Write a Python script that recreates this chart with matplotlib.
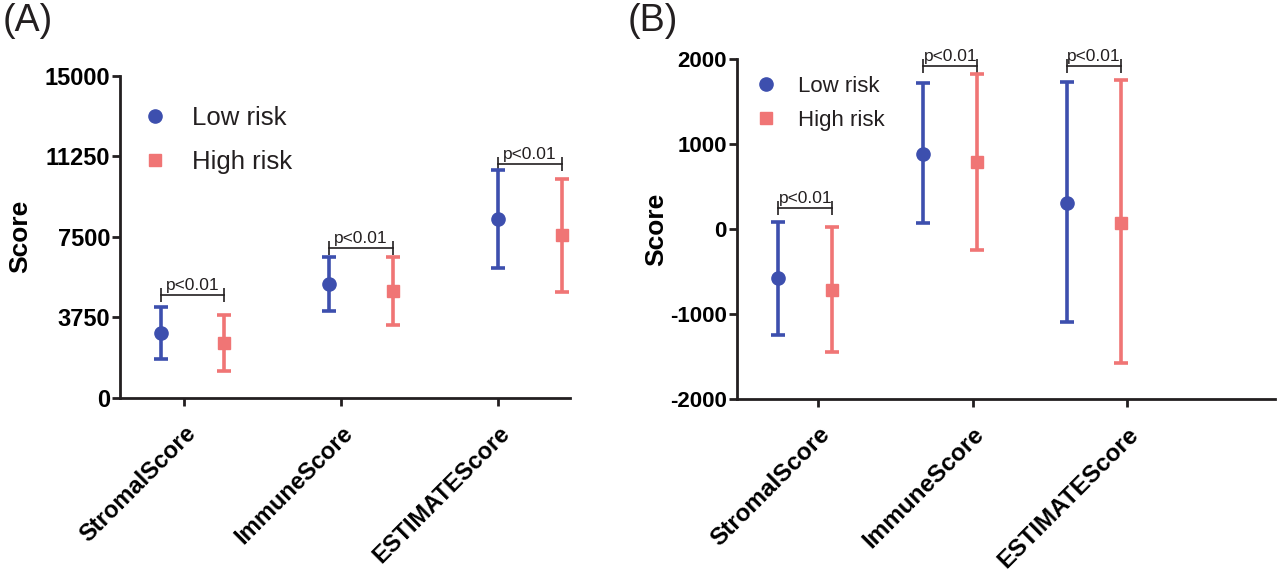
import matplotlib
matplotlib.use("Agg")
import matplotlib.pyplot as plt
from matplotlib.lines import Line2D

plt.rcParams['font.family'] = ['Liberation Sans', 'DejaVu Sans']
plt.rcParams['axes.unicode_minus'] = False

categories = ["StromalScore", "ImmuneScore", "ESTIMATEScore"]
groups = ["Low risk", "High risk"]

# panel A (ESTIMATE scores)
a_low_mean = [3015, 5298, 8341]
a_low_lo = [1803, 4040, 6058]
a_low_hi = [4227, 6557, 10625]
a_high_mean = [2549, 4986, 7563]
a_high_lo = [1272, 3388, 4926]
a_high_hi = [3868, 6557, 10205]
a_pval_y = [4800, 6976, 10890]

# panel B
b_low_mean = [-576, 885, 313]
b_low_lo = [-1243, 70, -1086]
b_low_hi = [89, 1717, 1729]
b_high_mean = [-714, 788, 78]
b_high_lo = [-1439, -243, -1576]
b_high_hi = [24, 1826, 1756]
b_pval_y = [247, 1920, 1920]

p_text = "p<0.01"

blue = "#3d4fae"
pink = "#f07575"
dark = "#231f20"

fig = plt.figure(figsize=(12.8, 5.8), dpi=100)


def draw_panel(ax, low, high, pval_y, low_off, high_off, ylim, yticks,
               tick_fs, cat_fs, leg_fs, leg_space, leg_anchor):
    xs = range(len(categories))
    xl = [i + o for i, o in zip(xs, low_off)]
    xh = [i + o for i, o in zip(xs, high_off)]
    handles = []
    for x, (m, lo, hi), c, mk, ms, lab in [
        (xl, low, blue, 'o', 9.5, groups[0]),
        (xh, high, pink, 's', 9, groups[1]),
    ]:
        yerr = [[a - b for a, b in zip(m, lo)], [b - a for a, b in zip(m, hi)]]
        ax.errorbar(x, m, yerr=yerr, fmt=mk, color=c, ms=ms, elinewidth=2.6,
                    capsize=5, capthick=2.6, zorder=3)
        handles.append(Line2D([], [], ls='none', marker=mk, color=c, ms=ms, label=lab))
    # significance brackets
    for x1, x2, y in zip(xl, xh, pval_y):
        ax.plot([x1, x2], [y, y], color=dark, lw=1.2, zorder=2)
        ax.plot([x1, x2], [y, y], ls='none', marker='|', ms=10, mew=1.2,
                color=dark, zorder=2)
        ax.annotate(p_text, ((x1 + x2) / 2, y), xytext=(0, 1.5),
                    textcoords='offset points', ha='center', va='bottom',
                    fontsize=12.5, color=dark)

    ax.set_ylim(*ylim)
    ax.set_yticks(yticks)
    ax.set_xticks(list(xs))
    ax.set_xticklabels(categories, rotation=45, ha='right', va='top',
                       rotation_mode='anchor', fontsize=cat_fs, fontweight='bold')
    for lbl in ax.get_yticklabels():
        lbl.set_fontweight('bold')
        lbl.set_fontsize(tick_fs)
    for s in ['top', 'right']:
        ax.spines[s].set_visible(False)
    for s in ['left', 'bottom']:
        ax.spines[s].set_linewidth(2.0)
        ax.spines[s].set_color(dark)
    ax.tick_params(width=2.0, length=6, color=dark, pad=1)
    ax.tick_params(axis='x', pad=11)
    ax.set_ylabel("Score", fontsize=19, fontweight='bold')
    leg = ax.legend(handles=handles, loc='upper left', bbox_to_anchor=leg_anchor,
                    frameon=False, fontsize=leg_fs, handlelength=1.0,
                    handletextpad=0.95, labelspacing=leg_space, borderpad=0,
                    borderaxespad=0)
    for t in leg.get_texts():
        t.set_color(dark)


axA = fig.add_axes([0.0938, 0.3138, 0.3515, 0.5557])
draw_panel(axA, (a_low_mean, a_low_lo, a_low_hi), (a_high_mean, a_high_lo, a_high_hi),
           a_pval_y, [-0.146, -0.076, 0.0], [0.255, 0.33, 0.41],
           (0, 15000), [0, 3750, 7500, 11250, 15000], 17, 17, 18.5, 0.78, (0.049, 0.907))
axA.set_xlim(-0.41, 2.46)
axA.yaxis.set_label_coords(-0.196, 0.5)

axB = fig.add_axes([0.5755, 0.3116, 0.4205, 0.5862])
draw_panel(axB, (b_low_mean, b_low_lo, b_low_hi), (b_high_mean, b_high_lo, b_high_hi),
           b_pval_y, [-0.26, -0.32, -0.39], [0.09, 0.03, -0.04],
           (-2000, 2000), [-2000, -1000, 0, 1000, 2000], 16, 17.5, 16, 0.6, (0.033, 0.951))
axB.set_xlim(-0.53, 2.96)
axB.yaxis.set_label_coords(-0.128, 0.5)

fig.text(0.002, 0.995, "(A)", fontsize=27, va='top', ha='left', color=dark)
fig.text(0.49, 0.995, "(B)", fontsize=27, va='top', ha='left', color=dark)

fig.savefig("out.png", dpi=100)
